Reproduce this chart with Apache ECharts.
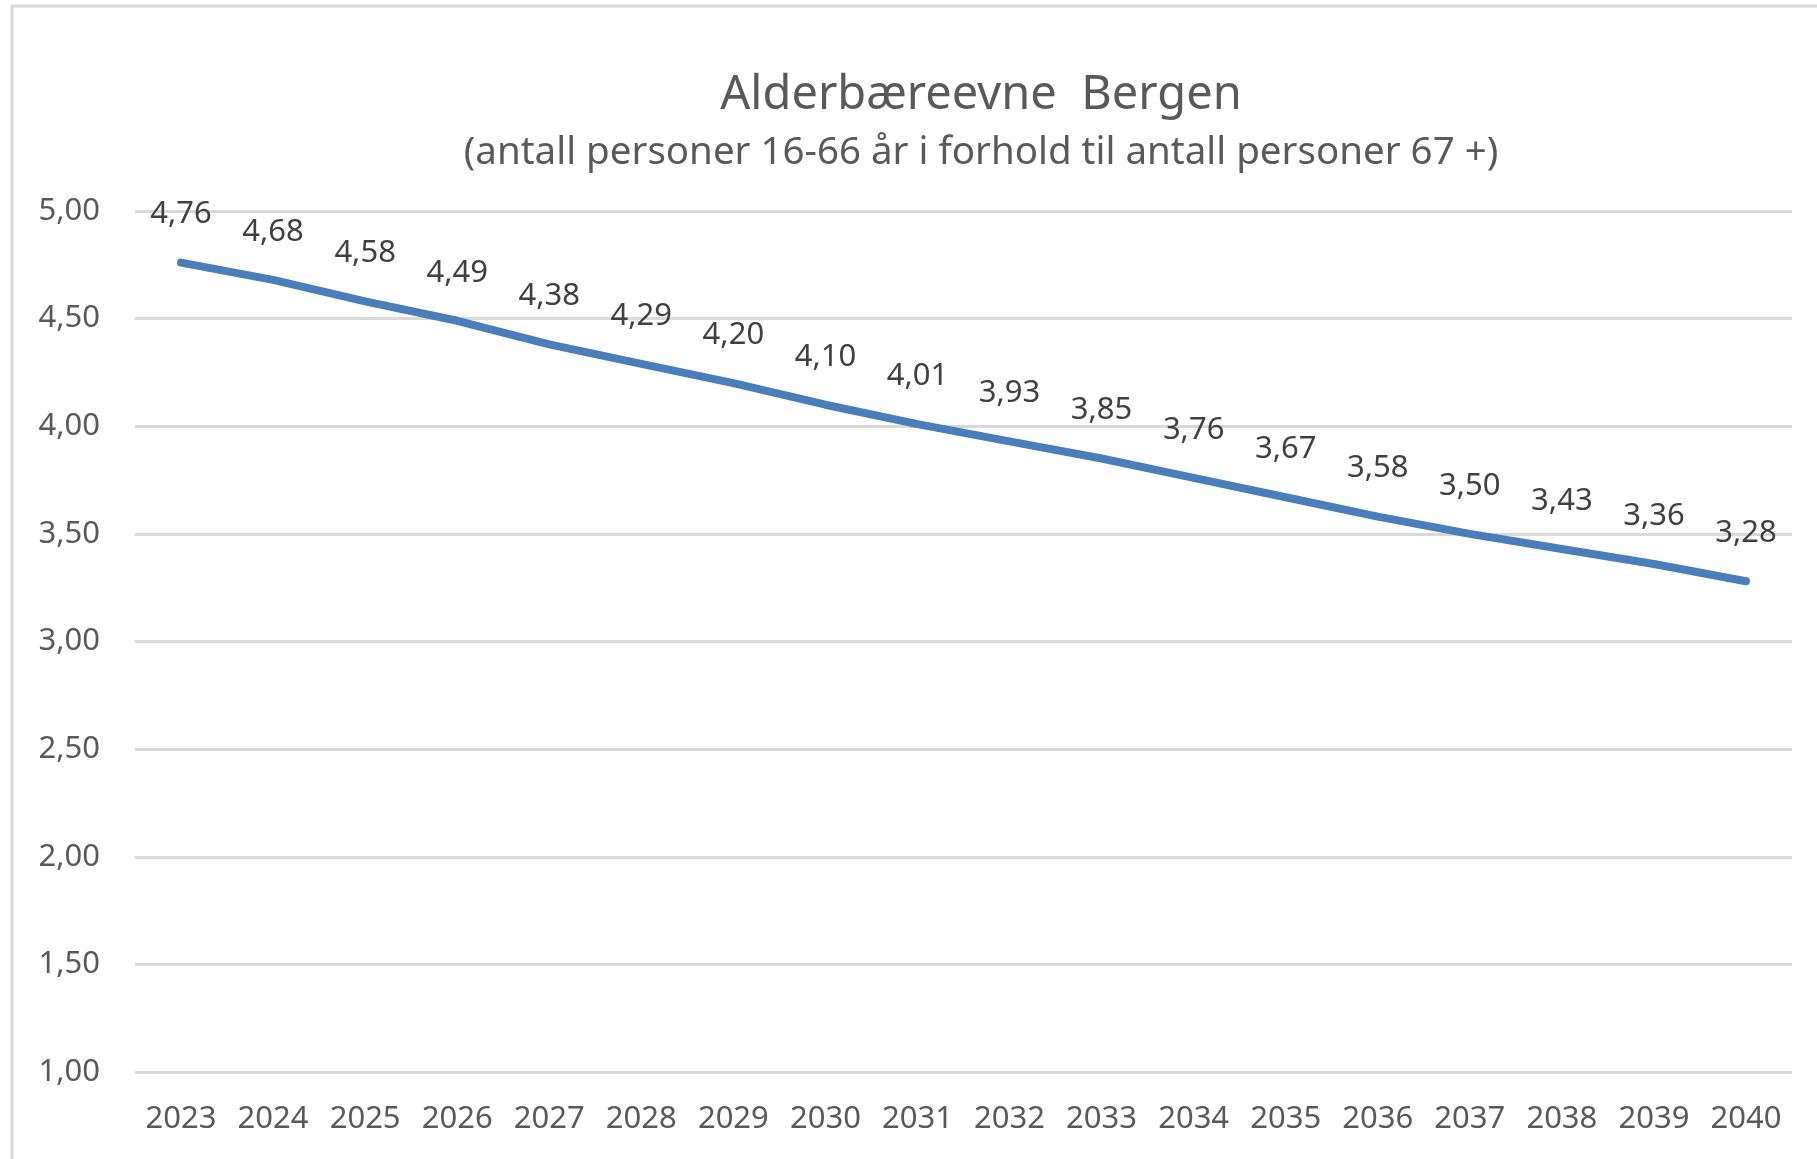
<!DOCTYPE html>
<html>
<head>
<meta charset="utf-8">
<script src="https://cdn.jsdelivr.net/npm/echarts@6/dist/echarts.min.js"></script>
<style>
  html, body { margin: 0; padding: 0; background: #ffffff; }
  #chart { width: 1817px; height: 1159px; }
</style>
</head>
<body>
<div id="chart"></div>
<script>
// Years on the category axis
const years = ['2023','2024','2025','2026','2027','2028','2029','2030','2031',
               '2032','2033','2034','2035','2036','2037','2038','2039','2040'];
// Persons aged 16-66 per person aged 67+
const ratio = [4.76, 4.68, 4.58, 4.49, 4.38, 4.29, 4.20, 4.10, 4.01,
               3.93, 3.85, 3.76, 3.67, 3.58, 3.50, 3.43, 3.36, 3.28];
// Value axis range
const yMin = 1.0;
const yMax = 5.0;
const yStep = 0.5;

const titleText = 'Alderbæreevne  Bergen';
const subtitleText = '(antall personer 16-66 år i forhold til antall personer 67 +)';

const FONT = '"Noto Sans", sans-serif';
const comma = v => v.toFixed(2).replace('.', ',');

const chart = echarts.init(document.getElementById('chart'), null, { renderer: 'canvas' });

chart.setOption({
  backgroundColor: '#ffffff',
  animation: false,
  graphic: [{
    type: 'rect',
    shape: { x: 12, y: 6, width: 1900, height: 1300 },
    style: { fill: 'none', stroke: '#d9d9d9', lineWidth: 3 },
    silent: true
  }],
  title: [{
    text: titleText,
    left: 976,
    top: 67,
    textAlign: 'center',
    textStyle: { fontFamily: FONT, fontSize: 47, fontWeight: 'normal', color: '#595959' }
  }, {
    text: subtitleText,
    left: 976,
    top: 129,
    textAlign: 'center',
    textStyle: { fontFamily: FONT, fontSize: 38.5, fontWeight: 'normal', color: '#595959' }
  }],
  grid: { left: 135, right: 25, top: 211, bottom: 87, containLabel: false },
  xAxis: {
    type: 'category',
    data: years,
    boundaryGap: true,
    axisLine: { show: false },
    axisTick: { show: false },
    axisLabel: {
      interval: 0,
      margin: 32,
      fontFamily: FONT, fontSize: 31, color: '#595959'
    }
  },
  yAxis: {
    type: 'value',
    min: yMin,
    max: yMax,
    interval: yStep,
    axisLine: { show: false },
    axisTick: { show: false },
    splitLine: { lineStyle: { color: '#d9d9d9', width: 3 } },
    axisLabel: {
      margin: 35,
      fontFamily: FONT, fontSize: 31, color: '#595959',
      formatter: v => comma(v)
    }
  },
  series: [{
    type: 'line',
    data: ratio,
    showSymbol: true,
    symbol: 'circle',
    symbolSize: 1,
    itemStyle: { color: 'rgba(0,0,0,0)' },
    lineStyle: { color: '#4a7ebb', width: 8, cap: 'round', join: 'round' },
    label: {
      show: true,
      position: 'top',
      distance: 32,
      fontFamily: FONT, fontSize: 31, color: '#404040',
      formatter: p => comma(p.value)
    },
    labelLayout: { hideOverlap: false }
  }]
});
</script>
</body>
</html>
